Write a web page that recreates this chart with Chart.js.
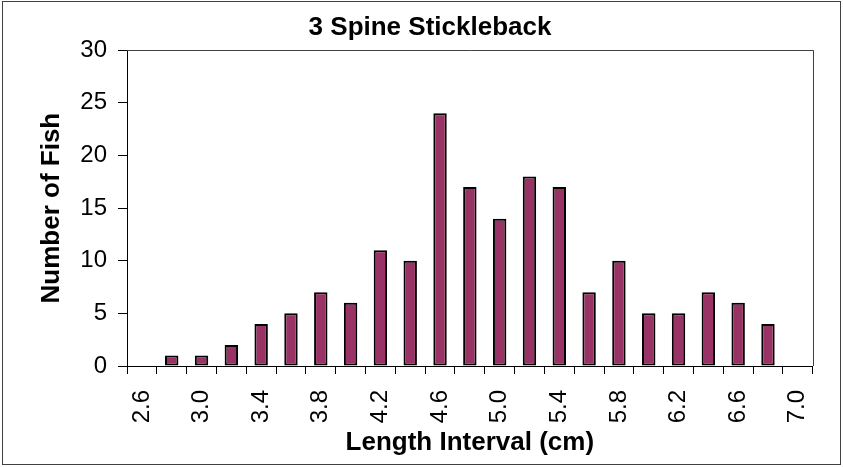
<!DOCTYPE html>
<html>
<head>
<meta charset="utf-8">
<script src="https://cdn.jsdelivr.net/npm/chart.js@4"></script>
<style>
  html, body { margin: 0; padding: 0; background: #fff; }
  canvas { display: block; }
</style>
</head>
<body>
<canvas id="chart" width="843" height="467"></canvas>
<script>
// length intervals (cm), one per bar slot
const lengthIntervals = ['2.6', '2.8', '3.0', '3.2', '3.4', '3.6', '3.8', '4.0', '4.2', '4.4', '4.6',
  '4.8', '5.0', '5.2', '5.4', '5.6', '5.8', '6.0', '6.2', '6.4', '6.6', '6.8', '7.0']
const fishCounts = [0, 1, 1, 2, 4, 5, 7, 6, 11, 10, 24, 17, 14, 18, 17, 7, 10, 5, 5, 7, 6, 4, 0]
const yTicks = [0, 5, 10, 15, 20, 25, 30]

const FONT = '"Liberation Sans", Arial, sans-serif'
Chart.defaults.color = '#000'
Chart.defaults.font.family = FONT

// frame round the whole chart and box round the plot area
const framePlugin = {
  id: 'frame',
  afterDraw(chart) {
    const { ctx, chartArea } = chart
    ctx.save()
    ctx.strokeStyle = '#404040'
    ctx.lineWidth = 1
    ctx.strokeRect(2.5, 1.5, 838, 463)
    ctx.beginPath()
    ctx.moveTo(chartArea.left, Math.round(chartArea.top) + 0.5)
    ctx.lineTo(Math.round(chartArea.right) + 0.5, Math.round(chartArea.top) + 0.5)
    ctx.lineTo(Math.round(chartArea.right) + 0.5, chartArea.bottom)
    ctx.stroke()
    ctx.restore()
  }
}

const ctx = document.getElementById('chart').getContext('2d')

new Chart(ctx, {
  type: 'bar',
  data: {
    labels: lengthIntervals,
    datasets: [{
      data: fishCounts,
      backgroundColor: '#993366',
      borderColor: '#000',
      borderWidth: 2,
      borderSkipped: false,
      categoryPercentage: 1,
      barPercentage: 0.45
    }]
  },
  options: {
    responsive: false,
    animation: false,
    layout: { padding: { left: 36, right: 19, top: 0, bottom: 0 } },
    plugins: {
      legend: { display: false },
      tooltip: { enabled: false },
      title: {
        display: true,
        text: '3 Spine Stickleback',
        font: { size: 26, weight: 'bold', family: FONT },
        color: '#000',
        padding: { top: 12, bottom: 7 }
      }
    },
    scales: {
      x: {
        afterFit(scale) { scale.height = 101 },
        grid: {
          offset: true,
          drawOnChartArea: false,
          drawTicks: true,
          tickLength: 8,
          color: '#000'
        },
        border: { display: true, color: '#000', width: 1 },
        ticks: {
          autoSkip: false,
          minRotation: 90,
          maxRotation: 90,
          padding: 16,
          font: { size: 24, family: FONT },
          callback(value, index) {
            return index % 2 === 0 ? lengthIntervals[index] : ''
          }
        },
        title: {
          display: true,
          text: 'Length Interval (cm)',
          font: { size: 26, weight: 'bold', family: FONT },
          padding: { top: 0, bottom: 9 }
        }
      },
      y: {
        min: yTicks[0],
        max: yTicks[yTicks.length - 1],
        afterFit(scale) { scale.width = 91 },
        afterBuildTicks(scale) { scale.ticks = yTicks.map(v => ({ value: v })) },
        grid: {
          drawOnChartArea: false,
          drawTicks: true,
          tickLength: 9,
          color: '#000'
        },
        border: { display: true, color: '#000', width: 1 },
        ticks: {
          padding: 11,
          font: { size: 24, family: FONT }
        },
        title: {
          display: true,
          text: 'Number of Fish',
          font: { size: 26, weight: 'bold', family: FONT },
          padding: { top: 0, bottom: 0 }
        }
      }
    }
  },
  plugins: [framePlugin]
})
</script>
</body>
</html>
